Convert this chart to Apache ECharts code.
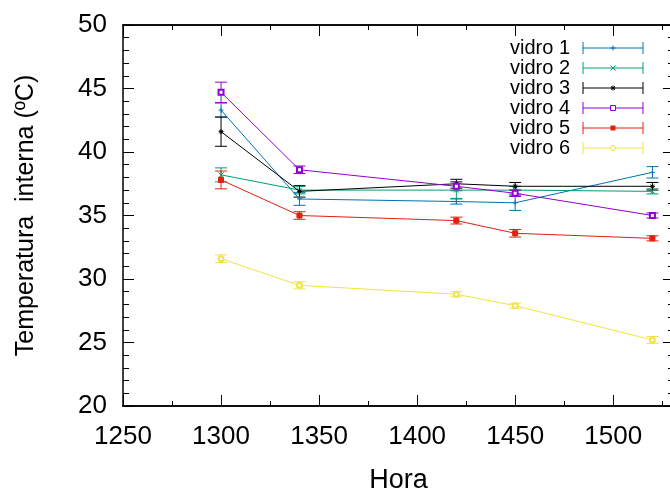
<!DOCTYPE html>
<html><head><meta charset="utf-8">
<script src="https://cdn.jsdelivr.net/npm/echarts@6/dist/echarts.min.js"></script>
<style>html,body{margin:0;padding:0;background:#fff}#c{width:670px;height:492px}</style>
</head><body><div id="c"></div>
<script>
// ---- data ----
const hours = [1300, 1340, 1420, 1450, 1520];
const seriesNames = ['vidro 1', 'vidro 2', 'vidro 3', 'vidro 4', 'vidro 5', 'vidro 6'];
const vidro1 = [43.3, 36.3, 36.1, 36.0, 38.4];
const vidro2 = [38.2, 37.0, 37.0, 37.0, 36.9];
const vidro3 = [41.6, 36.9, 37.5, 37.3, 37.3];
const vidro4 = [44.7, 38.6, 37.3, 36.75, 35.0];
const vidro5 = [37.8, 35.0, 34.6, 33.6, 33.2];
const vidro6 = [31.6, 29.5, 28.8, 27.9, 25.2];
const err1 = [0.55, 0.5, 0.2, 0.6, 0.45];
const err2 = [0.55, 0.3, 0.65, 0.3, 0.2];
const err3 = [1.15, 0.45, 0.35, 0.3, 0.3];
const err4 = [0.8, 0.3, 0.35, 0.25, 0.2];
const err5 = [0.7, 0.3, 0.27, 0.3, 0.2];
const err6 = [0.3, 0.28, 0.2, 0.2, 0.27];
const xTickLabels = [1250, 1300, 1350, 1400, 1450, 1500];
const yTickLabels = [20, 25, 30, 35, 40, 45, 50];
const xLabel = 'Hora';
const yLabel = 'Temperatura  interna (ºC)';

// ---- styles ----
const colors = ['#0072b2', '#009e73', '#000000', '#9400d3', '#e51e10', '#f0e442'];
const symPlus = 'path://M0,5L10,5M5,0L5,10';
const symCross = 'path://M0,0L10,10M10,0L0,10';
const symStar = 'path://M0,5L10,5M5,0L5,10M1.5,1.5L8.5,8.5M8.5,1.5L1.5,8.5';
const symbols = [symPlus, symCross, symStar, 'emptyRect', 'rect', 'emptyCircle'];
const symSizes = [5, 5, 5, 5, 5, 5];
const FONT = 'Liberation Sans, Arial, sans-serif';

const values = [vidro1, vidro2, vidro3, vidro4, vidro5, vidro6];
const errs = [err1, err2, err3, err4, err5, err6];

const chart = echarts.init(document.getElementById('c'), null, {renderer: 'canvas'});

const series = [];
values.forEach((vals, i) => {
  const c = colors[i];
  series.push({
    type: 'line', name: seriesNames[i], xAxisIndex: 0, yAxisIndex: 0,
    data: hours.map((h, k) => [h, vals[k]]),
    lineStyle: {color: c, width: 1},
    symbol: symbols[i], symbolSize: symSizes[i], showSymbol: true,
    itemStyle: {color: c, borderColor: c, borderWidth: 1},
    emphasis: {disabled: true}, animation: false, z: 3
  });
  series.push({
    type: 'custom', name: seriesNames[i] + ' err', xAxisIndex: 0, yAxisIndex: 0,
    data: hours.map((h, k) => [h, vals[k] - errs[i][k], vals[k] + errs[i][k]]),
    encode: {x: 0, y: [1, 2]},
    renderItem: function (params, api) {
      const x = api.value(0);
      const p1 = api.coord([x, api.value(2)]);
      const p2 = api.coord([x, api.value(1)]);
      const w = 6;
      const st = {stroke: c, lineWidth: 1};
      return {type: 'group', children: [
        {type: 'line', shape: {x1: p1[0], y1: p1[1], x2: p2[0], y2: p2[1]}, style: st},
        {type: 'line', shape: {x1: p1[0] - w, y1: p1[1], x2: p1[0] + w, y2: p1[1]}, style: st},
        {type: 'line', shape: {x1: p2[0] - w, y1: p2[1], x2: p2[0] + w, y2: p2[1]}, style: st}
      ]};
    },
    animation: false, z: 2
  });
});

// legend via graphic elements built from the names/colours
const legendRight = 570, legendTop = 48, legendGap = 20, sx0 = 583, sx1 = 643;
const graphic = [];
function seg(x1, y1, x2, y2, st) { return {type: 'line', shape: {x1, y1, x2, y2}, style: st}; }
seriesNames.forEach((n, i) => {
  const y = legendTop + i * legendGap;
  const c = colors[i];
  const st = {stroke: c, lineWidth: 1};
  graphic.push({type: 'text', x: legendRight, y: y,
    style: {text: n, font: '20px ' + FONT, fill: '#000', textAlign: 'right', textVerticalAlign: 'middle'}});
  graphic.push(seg(sx0, y, sx1, y, st));
  graphic.push(seg(sx0, y - 6, sx0, y + 6, st));
  graphic.push(seg(sx1, y - 6, sx1, y + 6, st));
  const mx = (sx0 + sx1) / 2, s = symSizes[i] / 2;
  if (i === 0) {
    graphic.push(seg(mx - s, y, mx + s, y, st), seg(mx, y - s, mx, y + s, st));
  } else if (i === 1) {
    graphic.push(seg(mx - s, y - s, mx + s, y + s, st), seg(mx + s, y - s, mx - s, y + s, st));
  } else if (i === 2) {
    const d = s * 0.7;
    graphic.push(seg(mx - s, y, mx + s, y, st), seg(mx, y - s, mx, y + s, st),
      seg(mx - d, y - d, mx + d, y + d, st), seg(mx + d, y - d, mx - d, y + d, st));
  } else if (i === 3) {
    graphic.push({type: 'rect', shape: {x: mx - s, y: y - s, width: 2 * s, height: 2 * s}, style: {stroke: c, lineWidth: 1, fill: '#fff'}});
  } else if (i === 4) {
    graphic.push({type: 'rect', shape: {x: mx - s, y: y - s, width: 2 * s, height: 2 * s}, style: {fill: c}});
  } else {
    graphic.push({type: 'circle', shape: {cx: mx, cy: y, r: s}, style: {stroke: c, lineWidth: 1, fill: '#fff'}});
  }
});

const axisLineStyle = {color: '#000', width: 1.5};
const GRID = {left: 123, top: 25, width: 551, height: 381, containLabel: false, outerBoundsMode: 'none'};
const xMin = 1250, xMax = 1531, yMin = 20, yMax = 50;

function xAxisDef(pos, interval, len, labels) {
  return {
    type: 'value', position: pos, min: xMin, max: xMax, interval: interval,
    axisLine: {show: true, onZero: false, lineStyle: axisLineStyle},
    axisTick: {show: true, inside: true, length: len, lineStyle: {color: '#000', width: 1}},
    splitLine: {show: false},
    axisLabel: labels ? {show: true, fontSize: 26, color: '#000', fontFamily: FONT, margin: 18,
      formatter: v => xTickLabels.indexOf(v) >= 0 ? String(v) : ''} : {show: false},
    name: labels ? xLabel : '', nameLocation: 'middle', nameGap: 61,
    nameTextStyle: {fontSize: 27, color: '#000', fontFamily: FONT}
  };
}
function yAxisDef(pos, labels) {
  return {
    type: 'value', position: pos, min: yMin, max: yMax, interval: 5,
    axisLine: {show: true, onZero: false, lineStyle: axisLineStyle},
    axisTick: {show: true, inside: true, length: 11, lineStyle: {color: '#000', width: 1}},
    minorTick: {show: true, splitNumber: 5, length: 6, lineStyle: {color: '#000', width: 1}},
    splitLine: {show: false},
    axisLabel: labels ? {show: true, fontSize: 26, color: '#000', fontFamily: FONT, margin: 16,
      formatter: v => yTickLabels.indexOf(v) >= 0 ? String(v) : ''} : {show: false},
    name: labels ? yLabel : '', nameLocation: 'middle', nameGap: 84, nameRotate: 90,
    nameTextStyle: {fontSize: 25, color: '#000', fontFamily: FONT}
  };
}

chart.setOption({
  backgroundColor: '#fff',
  animation: false,
  grid: GRID,
  xAxis: [
    xAxisDef('bottom', 50, 11, true),
    xAxisDef('bottom', 25, 5, false),
    xAxisDef('top', 50, 11, false),
    xAxisDef('top', 25, 5, false)
  ],
  yAxis: [yAxisDef('left', true), yAxisDef('right', false)],
  series: series,
  graphic: graphic
});
</script>
</body></html>
